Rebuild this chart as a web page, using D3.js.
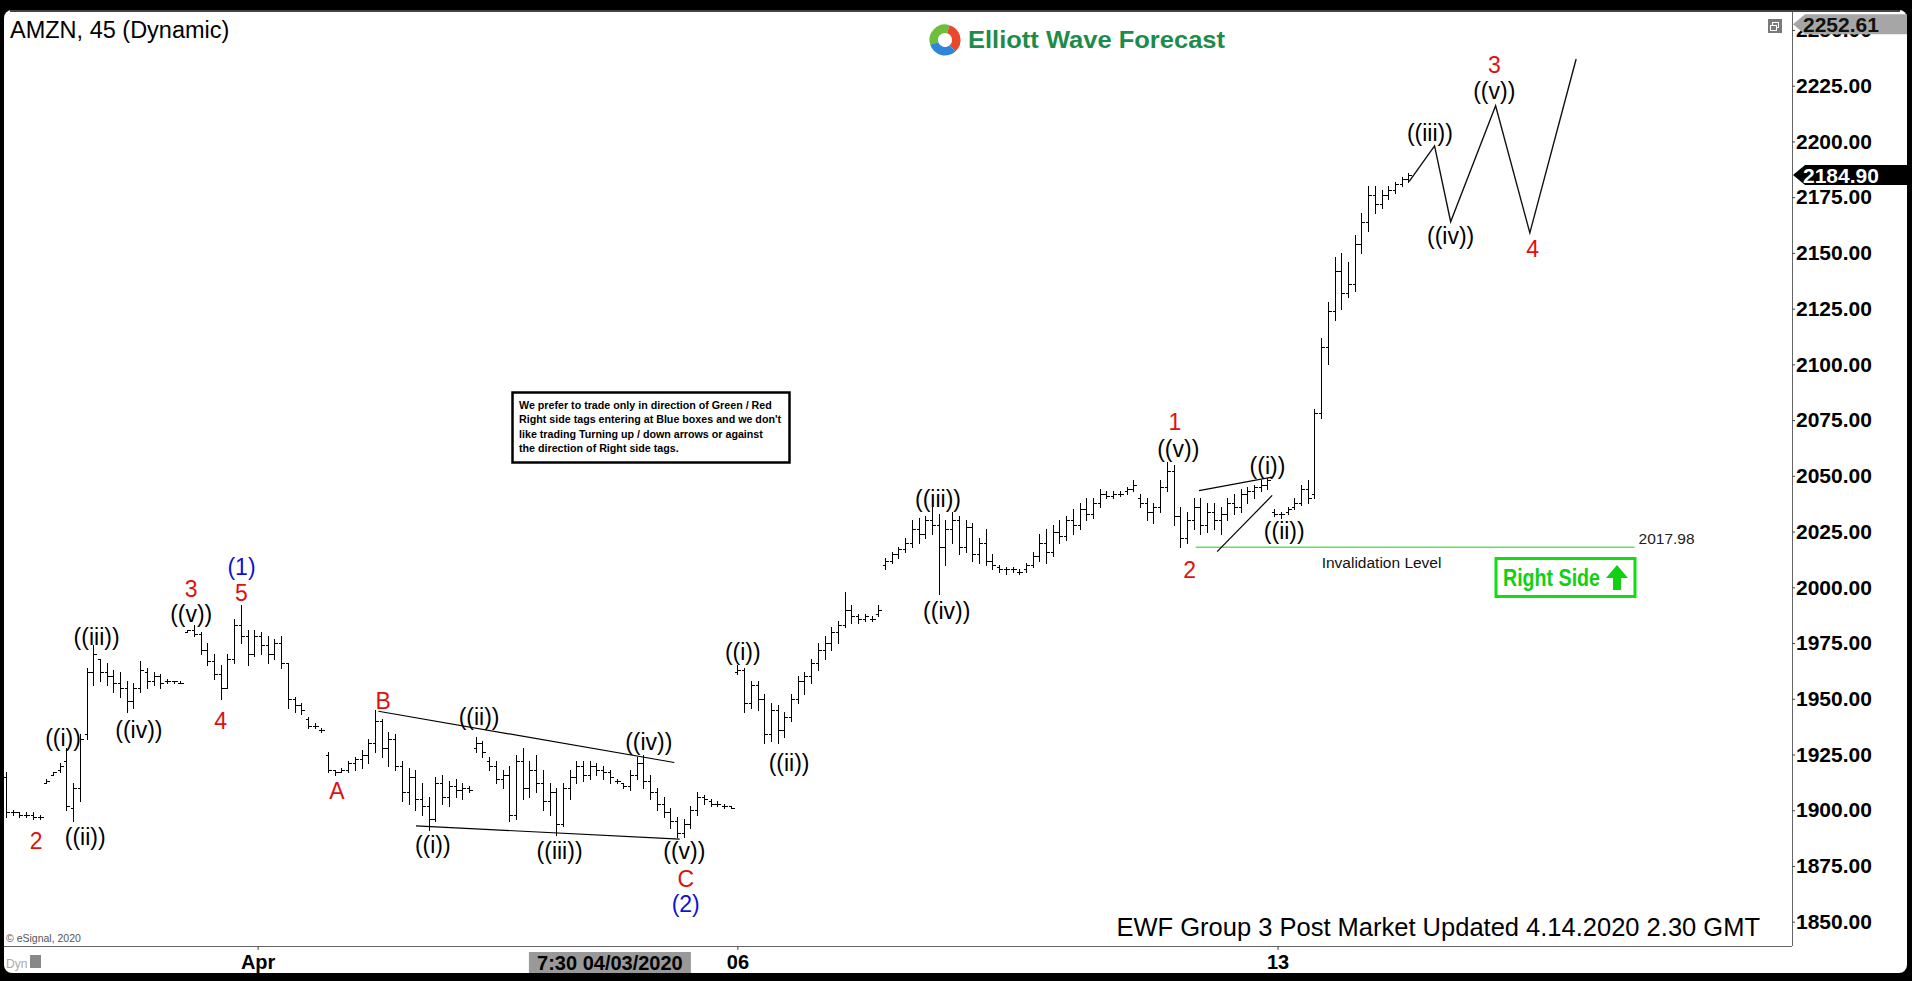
<!DOCTYPE html>
<html><head><meta charset="utf-8">
<script src="https://cdn.jsdelivr.net/npm/d3@7"></script>
<style>
html,body{margin:0;padding:0;background:#000;overflow:hidden;}
svg{display:block;font-family:"Liberation Sans",Arial,sans-serif;}
</style></head><body>
<svg id="c" width="1912" height="981"></svg>
<script>
// ---- DATA ----
// OHLC bars [open, high, low, close], 45-minute bars
const barsMar30to31 = [
[1915,1917,1897,1899],[1899,1900,1898,1899],[1899,1899,1897,1898],[1898,1899,1897,1898],
[1898,1899,1896,1897],[1897,1898,1896,1897],[1912,1914,1912,1913],[1916,1917,1916,1917],
[1918,1921,1917,1920],[1922,1928,1900,1902],[1901,1912,1895,1910],[1910,1934,1904,1932],
[1934,1964,1932,1962],[1962,1974,1956,1970],[1968,1968,1958,1962],[1962,1966,1956,1960],
[1960,1963,1953,1957],[1957,1962,1951,1955],[1955,1958,1944,1949],[1949,1957,1946,1955],
[1955,1967,1953,1963],[1962,1964,1955,1958],[1958,1962,1956,1960],[1960,1961,1955,1957],
[1958,1959,1957,1958],[1958,1958,1957,1958],[1957,1958,1957,1957],[1980,1981,1980,1981],
[1981,1983,1978,1979],[1979,1980,1970,1972],[1972,1975,1965,1967],[1967,1970,1959,1961],
[1961,1965,1950,1955],[1955,1970,1955,1968],[1968,1986,1966,1983],[1983,1992,1975,1978],
[1978,1981,1965,1970],[1970,1981,1969,1978]
];
const barsApr1to3 = [
[1978,1980,1970,1974],[1974,1978,1966,1970],[1970,1977,1968,1975],[1975,1978,1964,1966],
[1966,1966,1946,1950],[1950,1951,1944,1947],[1947,1948,1943,1945],[1941,1942,1937,1938],
[1938,1939,1937,1938],[1936,1937,1935,1936],[1925,1926,1917,1918],[1918,1918,1916,1917],
[1917,1919,1917,1918],[1918,1922,1917,1921],[1921,1924,1918,1923],[1923,1927,1919,1925],
[1925,1932,1921,1930],[1930,1945,1926,1940],[1940,1941,1924,1928],[1928,1935,1920,1932],
[1932,1934,1918,1920],[1920,1922,1904,1908],[1908,1919,1903,1915],[1915,1918,1900,1905],
[1905,1912,1898,1902],[1902,1906,1891,1896],[1896,1915,1895,1912],[1912,1916,1903,1906],
[1906,1913,1902,1911],[1911,1914,1906,1909],[1909,1912,1905,1910],[1910,1911,1908,1909],
[1928,1933,1926,1930],[1930,1931,1924,1926],[1922,1924,1918,1920],[1920,1922,1912,1914],
[1914,1918,1910,1916],[1916,1920,1895,1898],[1898,1925,1896,1922],[1922,1928,1905,1910],
[1910,1922,1906,1918],[1918,1925,1908,1912],[1912,1918,1900,1904],[1904,1912,1898,1908],
[1908,1910,1889,1894],[1894,1912,1893,1910],[1910,1918,1905,1915],[1915,1922,1912,1920],
[1920,1922,1913,1916],[1916,1922,1914,1920],[1920,1921,1916,1918],[1918,1920,1914,1917],
[1917,1918,1912,1915],[1913,1914,1912,1913],[1912,1912,1910,1911],[1911,1918,1909,1916],
[1916,1924,1914,1921],[1921,1925,1910,1913],[1913,1916,1905,1908],[1908,1910,1900,1903],
[1903,1906,1897,1899],[1899,1901,1892,1895],[1895,1897,1888,1890],[1890,1896,1888,1894],
[1894,1902,1892,1900],[1900,1908,1898,1906],[1906,1907,1903,1905],[1904,1905,1902,1903],
[1903,1904,1902,1903],[1902,1903,1901,1902],[1902,1902,1901,1901]
];
const barsApr6to9 = [
[1962,1965,1961,1963],[1963,1964,1944,1948],[1948,1958,1946,1956],[1956,1958,1945,1950],
[1950,1952,1930,1934],[1934,1948,1931,1945],[1945,1947,1930,1936],[1936,1944,1933,1942],
[1942,1952,1940,1950],[1950,1960,1948,1958],[1958,1962,1952,1960],[1960,1968,1957,1966],
[1966,1975,1963,1972],[1972,1978,1968,1975],[1975,1982,1972,1980],[1980,1985,1975,1983],
[1983,1998,1982,1990],[1990,1992,1984,1987],[1987,1988,1984,1986],[1986,1988,1985,1987],
[1986,1987,1985,1986],[1988,1992,1987,1990],[2010,2013,2008,2012],[2012,2016,2011,2015],
[2015,2018,2013,2017],[2017,2022,2016,2020],[2020,2030,2018,2026],[2026,2031,2020,2024],
[2024,2032,2022,2030],[2030,2036,2024,2028],[2028,2033,1997,2018],[2018,2030,2010,2026],
[2026,2034,2020,2030],[2030,2032,2015,2018],[2018,2030,2016,2027],[2027,2029,2012,2015],
[2015,2022,2011,2020],[2020,2026,2010,2012],[2012,2015,2008,2010],[2009,2010,2007,2008],
[2008,2009,2006,2008],[2008,2009,2007,2008],[2007,2008,2006,2007],[2008,2011,2007,2010],
[2010,2016,2009,2014],[2014,2024,2012,2020],[2020,2026,2011,2016],[2016,2028,2014,2025],
[2025,2030,2020,2023],[2023,2032,2021,2030],[2030,2035,2024,2028],[2028,2038,2026,2035],
[2035,2040,2030,2033],[2033,2040,2031,2038],[2038,2044,2036,2042],[2042,2043,2040,2041],
[2041,2043,2040,2042],[2042,2043,2041,2042],[2043,2045,2042,2044],[2044,2048,2043,2046],
[2040,2042,2036,2038],[2038,2040,2030,2034],[2034,2038,2029,2036],[2036,2048,2034,2045],
[2045,2056,2043,2052],[2052,2055,2028,2032],[2032,2036,2018,2022],[2022,2034,2020,2030],
[2030,2040,2026,2036],[2036,2040,2024,2028],[2028,2038,2025,2034],[2034,2038,2026,2030],
[2030,2036,2024,2033],[2033,2040,2030,2038],[2038,2042,2033,2036],[2036,2044,2034,2042],
[2042,2045,2038,2043],[2043,2046,2040,2045],[2045,2048,2043,2046],[2046,2049,2044,2048],
[2034,2035,2032,2033]
];
const barsApr13to14 = [
[2033,2034,2031,2033],[2034,2036,2033,2035],[2036,2040,2035,2038],[2038,2046,2037,2044],
[2044,2048,2038,2040],[2042,2080,2040,2078],[2078,2112,2076,2108],[2108,2128,2100,2124],
[2124,2148,2120,2142],[2142,2150,2125,2132],[2132,2146,2130,2136],[2136,2158,2133,2154],
[2154,2168,2150,2164],[2164,2180,2160,2176],[2176,2180,2168,2172],[2172,2178,2170,2176],
[2176,2180,2174,2178],[2178,2182,2177,2181],[2181,2184,2180,2183],[2183,2186,2182,2184.9]
];
const yTicks = [1850,1875,1900,1925,1950,1975,2000,2025,2050,2075,2100,2125,2150,2175,2200,2225,2250];
const xTickIdx = [37.5,109,189.5];
const xTickLabels = ["Apr","06","13"];
const cursorIdx = 90, cursorLabel = "7:30 04/03/2020";
const highPrice = 2252.61, lastPrice = 2184.90;
// projected path (bar index, price)
const forecastIdx   = [209.1,212.9,215.3,222,227.1,234];
const forecastPrice = [2182,2198,2164,2216,2159,2237];
// trend lines [idx1, price1, idx2, price2]
const trendLines = [
  [55.5,1944.4,99.6,1921.4],
  [61.1,1893,100.4,1887],
  [177.8,2043.4,188.7,2049.4],
  [180.5,2016,188.7,2041.2]
];
const invalidLevel = 2017.98, invalidFrom = 177.3, invalidTo = 242.7;
// wave labels [text, bar index, price, kind]
const waveLabels = [
["2",4.5,1886,"r"],["((i))",8.5,1932.4,"k"],["((ii))",11.8,1888,"k"],["((iii))",13.5,1977.8,"k"],
["((iv))",19.8,1936.2,"k"],["((v))",27.6,1987.8,"k"],["3",27.6,1999.2,"r"],["4",32,1940,"r"],
["(1)",35.1,2009,"b"],["5",35.1,1997.4,"r"],["A",49.3,1908.8,"r"],["B",56.2,1948.8,"r"],
["((i))",63.6,1884.2,"k"],["((ii))",70.5,1941.7,"k"],["((iii))",82.5,1881.5,"k"],["((iv))",95.8,1930.7,"k"],
["((v))",101.1,1881.8,"k"],["C",101.3,1869.3,"r"],["(2)",101.3,1858,"b"],["((i))",109.8,1971.2,"k"],
["((ii))",116.7,1921.4,"k"],["((iii))",138.9,2039.6,"k"],["((iv))",140.2,1989.2,"k"],["1",174.2,2074,"r"],
["((v))",174.7,2062,"k"],["2",176.4,2007.8,"r"],["((i))",188,2054.3,"k"],["((ii))",190.5,2025.3,"k"],
["((iii))",212.2,2203.7,"k"],["((iv))",215.3,2157.7,"k"],["3",221.8,2234.5,"r"],["((v))",221.8,2222.5,"k"],
["4",227.5,2151.7,"r"]
];
const noticeLines = [
"We prefer to trade only in direction of Green / Red",
"Right side tags entering at Blue boxes and we don't",
"like trading Turning up / down arrows or against",
"the direction of Right side tags."
];
const title = "AMZN, 45 (Dynamic)";
const footer = "EWF Group 3 Post Market Updated 4.14.2020 2.30 GMT";

// ---- DRAW ----
const bars = [].concat(barsMar30to31, barsApr1to3, barsApr6to9, barsApr13to14);
const W = 1912, H = 981;
const PL = 4, PT = 12, PR = 1792, PB = 946;
const svg = d3.select("#c");
const FONT = '"Liberation Sans",Arial,sans-serif';

svg.append("rect").attr("width",W).attr("height",H).attr("fill","#000");
svg.append("rect").attr("x",4).attr("y",10).attr("width",1903).attr("height",963).attr("rx",8).attr("fill","#fff");
svg.append("rect").attr("x",10).attr("y",10).attr("width",1890).attr("height",2).attr("fill","#444");

const xS = d3.scaleLinear().domain([0,266]).range([6, 6 + 266*6.71]);
const yS = d3.scaleLinear().domain([1850,2225]).range([921.7,85.7]);

svg.append("defs").append("clipPath").attr("id","plot")
  .append("rect").attr("x",PL).attr("y",PT).attr("width",PR-PL).attr("height",PB-PT);

// frame lines
svg.append("line").attr("x1",PL).attr("x2",PR).attr("y1",PB+0.5).attr("y2",PB+0.5).attr("stroke","#666");
svg.append("line").attr("x1",PR+0.5).attr("x2",PR+0.5).attr("y1",PT).attr("y2",PB).attr("stroke","#666");

const plot = svg.append("g").attr("clip-path","url(#plot)");

// notice box
const nb = plot.append("g");
nb.append("rect").attr("x",512.5).attr("y",392.5).attr("width",277).attr("height",70)
  .attr("fill","#fff").attr("stroke","#000").attr("stroke-width",2.5);
nb.selectAll("text").data(noticeLines).join("text")
  .attr("x",519).attr("y",(d,i)=>409+i*14.4)
  .attr("font-size",10.7).attr("font-weight","bold").attr("fill","#000").attr("font-family",FONT)
  .text(d=>d);

// invalidation level
plot.append("line").attr("x1",xS(invalidFrom)).attr("x2",xS(invalidTo))
  .attr("y1",yS(invalidLevel)).attr("y2",yS(invalidLevel))
  .attr("stroke","#66dd66").attr("stroke-width",1.5);
plot.append("text").attr("x",xS(invalidTo)+4).attr("y",yS(invalidLevel)-3)
  .attr("font-size",15.5).attr("fill","#222").attr("font-family",FONT).text(invalidLevel.toFixed(2));
plot.append("text").attr("x",xS(205)).attr("y",yS(invalidLevel)+21).attr("text-anchor","middle")
  .attr("font-size",15.5).attr("fill","#111").attr("font-family",FONT).text("Invalidation Level");

// Right Side tag
const rs = plot.append("g");
rs.append("rect").attr("x",1496).attr("y",558.5).attr("width",139).attr("height",38)
  .attr("fill","#fff").attr("stroke","#11dd11").attr("stroke-width",3);
rs.append("text").attr("x",1503).attr("y",586).attr("font-size",24).attr("font-weight","bold")
  .attr("fill","#11d011").attr("font-family",FONT).attr("textLength",97).attr("lengthAdjust","spacingAndGlyphs")
  .text("Right Side");
rs.append("path").attr("d","M1617,565 L1628,578 L1621,578 L1621,590 L1613,590 L1613,578 L1606,578 Z")
  .attr("fill","#11d011");

// bars
const tk = 3;
plot.append("g").attr("stroke","#000").attr("stroke-width",1).attr("fill","none").attr("shape-rendering","crispEdges")
  .selectAll("path").data(bars).join("path")
  .attr("d",(d,i)=>{
    const x = Math.round(xS(i))+0.5;
    const yo = Math.round(yS(d[0]))+0.5, yh = Math.round(yS(d[1])), yl = Math.round(yS(d[2]))+1, yc = Math.round(yS(d[3]))+0.5;
    return `M${x},${yh}V${yl}M${x-tk},${yo}H${x}M${x},${yc}H${x+tk}`;
  });

// trend lines
plot.append("g").selectAll("line").data(trendLines).join("line")
  .attr("x1",d=>xS(d[0])).attr("y1",d=>yS(d[1])).attr("x2",d=>xS(d[2])).attr("y2",d=>yS(d[3]))
  .attr("stroke","#000").attr("stroke-width",1.2);

// forecast path
const fPts = forecastIdx.map((d,i)=>[xS(d), yS(forecastPrice[i])]);
plot.append("path").attr("d", d3.line()(fPts)).attr("fill","none").attr("stroke","#111").attr("stroke-width",1.4);

// wave labels
const kindColor = {k:"#000", r:"#e01010", b:"#1010d8"};
plot.append("g").selectAll("text").data(waveLabels).join("text")
  .attr("x",d=>xS(d[1])).attr("y",d=>yS(d[2])+8).attr("text-anchor","middle")
  .attr("font-size",23).attr("font-family",FONT).attr("fill",d=>kindColor[d[3]]).text(d=>d[0]);

// title, logo, footer
svg.append("text").attr("x",10).attr("y",38).attr("font-size",23.5).attr("fill","#000").attr("font-family",FONT).text(title);
const logo = svg.append("g").attr("transform","translate(945,40)");
const arc = d3.arc().innerRadius(7).outerRadius(15.5);
[["#6cbf3c",-1.9,0.3],["#e8482c",0.3,2.4],["#2f86d6",2.4,4.4]].forEach(a=>{
  logo.append("path").attr("d",arc({startAngle:a[1],endAngle:a[2]})).attr("fill",a[0]);
});
svg.append("text").attr("x",968).attr("y",48).attr("font-size",24).attr("font-weight","bold")
  .attr("fill","#1d8c4b").attr("font-family",FONT).attr("textLength",257).attr("lengthAdjust","spacingAndGlyphs")
  .text("Elliott Wave Forecast");
svg.append("text").attr("x",1760).attr("y",936).attr("text-anchor","end").attr("font-size",25.5)
  .attr("fill","#000").attr("font-family",FONT).text(footer);
svg.append("text").attr("x",6).attr("y",942).attr("font-size",10.5).attr("fill","#555").attr("font-family",FONT).text("© eSignal, 2020");

// y axis
const ga = svg.append("g").attr("transform",`translate(${PR},0)`)
  .call(d3.axisRight(yS).tickValues(yTicks).tickFormat(d3.format(".2f")).tickSize(3).tickPadding(1));
ga.select(".domain").remove();
ga.selectAll("line").attr("stroke","#444");
ga.selectAll("text").attr("font-size",21).attr("font-weight","bold").attr("fill","#000").attr("font-family",FONT);

// price tags
function priceTag(p, fill, txtColor){
  const y = yS(p);
  const g = svg.append("g");
  g.append("path").attr("d",`M${PR+1},${y} L${PR+13},${y-10} H1907 V${y+10} H${PR+13} Z`).attr("fill",fill);
  g.append("text").attr("x",1803).attr("y",y+7.5).attr("font-size",21).attr("font-weight","bold")
    .attr("fill",txtColor).attr("font-family",FONT).text(p.toFixed(2));
}
priceTag(highPrice,"#a6a6a6","#111");
priceTag(lastPrice,"#000","#fff");

// restore icon
svg.append("rect").attr("x",1768).attr("y",19).attr("width",14).attr("height",14).attr("fill","#7a7a7a");
svg.append("rect").attr("x",1772.5).attr("y",22.5).attr("width",6).attr("height",5).attr("fill","none").attr("stroke","#fff");
svg.append("rect").attr("x",1770.5).attr("y",25.5).attr("width",6).attr("height",5).attr("fill","#7a7a7a").attr("stroke","#fff");

// x axis
const gx = svg.append("g").attr("transform",`translate(0,${PB})`)
  .call(d3.axisBottom(xS).tickValues(xTickIdx).tickFormat((d,i)=>xTickLabels[i]).tickSize(4).tickPadding(5));
gx.select(".domain").remove();
gx.selectAll("line").attr("stroke","#444");
gx.selectAll("text").attr("font-size",20).attr("font-weight","bold").attr("fill","#000").attr("font-family",FONT);

// cursor time box
const cx = xS(cursorIdx);
svg.append("rect").attr("x",cx-81).attr("y",952).attr("width",162).attr("height",21).attr("fill","#999");
svg.append("text").attr("x",cx).attr("y",969.5).attr("text-anchor","middle").attr("font-size",20).attr("font-weight","bold")
  .attr("fill","#000").attr("font-family",FONT).text(cursorLabel);

// Dyn indicator
svg.append("text").attr("x",6).attr("y",968).attr("font-size",12).attr("fill","#aaa").attr("font-family",FONT).text("Dyn");
svg.append("rect").attr("x",30).attr("y",955).attr("width",11).attr("height",13).attr("fill","#888");
</script>
</body></html>
